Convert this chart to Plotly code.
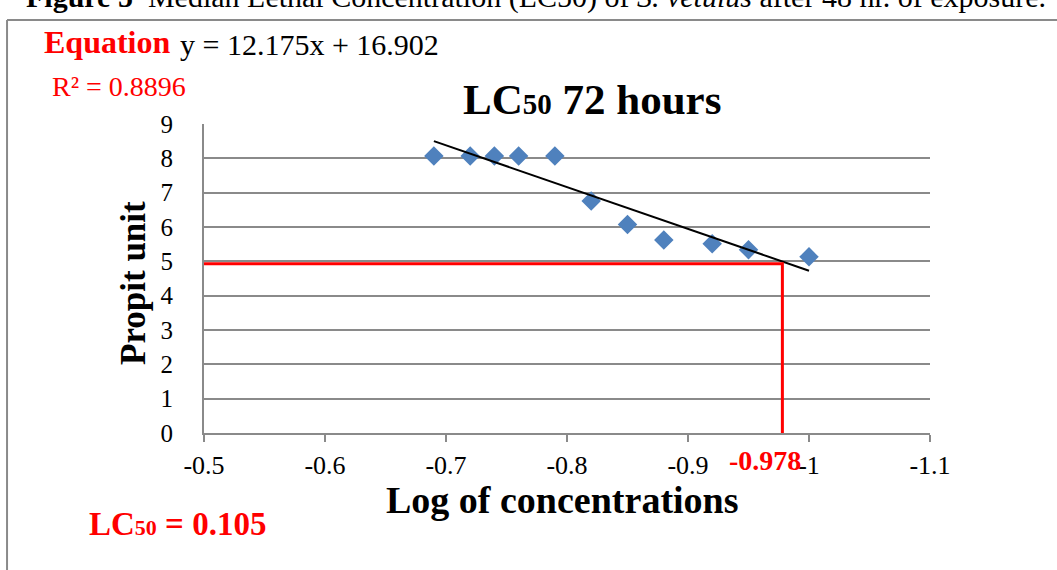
import plotly.graph_objects as go

# ---- data ----
log_conc = [-0.69, -0.72, -0.74, -0.76, -0.79, -0.82, -0.85, -0.88, -0.92, -0.95, -1.00]
probit = [8.07, 8.07, 8.07, 8.07, 8.07, 6.76, 6.07, 5.62, 5.51, 5.34, 5.13]
slope = 12.175
intercept = 16.902
lc50_log = -0.978
lc50_probit = 4.93
x_ticks = [-0.5, -0.6, -0.7, -0.8, -0.9, -1.0, -1.1]
x_tick_labels = ["-0.5", "-0.6", "-0.7", "-0.8", "-0.9", "-1", "-1.1"]
y_ticks = [0, 1, 2, 3, 4, 5, 6, 7, 8, 9]

SERIF = "Liberation Serif, Times New Roman, serif"
GRID = "#8a8a8a"

trend_x = [log_conc[0], log_conc[-1]]
trend_y = [slope * v + intercept for v in trend_x]

fig = go.Figure()
fig.add_trace(go.Scatter(x=log_conc, y=probit, mode="markers",
                         marker=dict(symbol="diamond", size=15, color="#4F81BD"),
                         showlegend=False))
fig.add_trace(go.Scatter(x=trend_x, y=trend_y, mode="lines",
                         line=dict(color="black", width=2), showlegend=False))
# LC50 guide lines
fig.add_trace(go.Scatter(x=[x_ticks[0], lc50_log, lc50_log], y=[lc50_probit, lc50_probit, y_ticks[0]],
                         mode="lines", line=dict(color="#ff0000", width=3), showlegend=False,
                         cliponaxis=False))

fig.update_layout(
    width=1057, height=570,
    margin=dict(l=204, r=127, t=124, b=137),
    paper_bgcolor="white", plot_bgcolor="white",
    font=dict(family=SERIF, color="black"),
    xaxis=dict(range=[-0.5, -1.1], tickvals=x_ticks, ticktext=x_tick_labels,
               showgrid=False, zeroline=False, showline=True, linecolor=GRID, linewidth=2,
               ticks="outside", ticklen=7, tickcolor=GRID, tickwidth=2,
               tickfont=dict(size=26, family=SERIF), ticklabelstandoff=1),
    yaxis=dict(range=[0, 9], tickvals=y_ticks, showgrid=True, gridcolor=GRID, gridwidth=2,
               zeroline=False, showline=True, linecolor=GRID, linewidth=2, ticks="",
               tickfont=dict(size=25, family=SERIF), ticklabelstandoff=24),
)

ann = []
ann.append(dict(text="<b>Figure 5</b>  Median Lethal Concentration (LC50) of <i>S. vetulus</i> after 48 hr. of exposure.",
                x=-0.248, y=1.35, xref="paper", yref="paper", xanchor="left", yanchor="bottom",
                showarrow=False, font=dict(size=30, family=SERIF)))
ann.append(dict(text="<b>Equation</b>", x=-0.223, y=1.265, xref="paper", yref="paper",
                xanchor="left", yanchor="middle", showarrow=False,
                font=dict(size=32, color="#ff0000", family=SERIF)))
ann.append(dict(text="y = 12.175x + 16.902", x=-0.036, y=1.257, xref="paper", yref="paper",
                xanchor="left", yanchor="middle", showarrow=False,
                font=dict(size=30, color="black", family=SERIF)))
ann.append(dict(text="R² = 0.8896", x=-0.212, y=1.12, xref="paper", yref="paper",
                xanchor="left", yanchor="middle", showarrow=False,
                font=dict(size=28, color="#ff0000", family=SERIF)))
ann.append(dict(text="<b>LC<span style='font-size:29px'>50</span> 72 hours</b>", x=0.534, y=1.078,
                xref="paper", yref="paper", xanchor="center", yanchor="middle", showarrow=False,
                font=dict(size=43, color="black", family=SERIF)))
ann.append(dict(text="<b>Propit unit</b>", x=-0.098, y=0.485, xref="paper", yref="paper",
                xanchor="center", yanchor="middle", textangle=-90, showarrow=False,
                font=dict(size=35, color="black", family=SERIF)))
ann.append(dict(text="<b>Log of concentrations</b>", x=0.494, y=-0.218, xref="paper", yref="paper",
                xanchor="center", yanchor="middle", showarrow=False,
                font=dict(size=38, color="black", family=SERIF)))
ann.append(dict(text="<b>-0.978</b>", x=0.773, y=-0.09, xref="paper", yref="paper",
                xanchor="center", yanchor="middle", showarrow=False,
                font=dict(size=28, color="#ff0000", family=SERIF)))
ann.append(dict(text="<b>LC<span style='font-size:22px'>50</span> = 0.105</b>", x=-0.161, y=-0.294,
                xref="paper", yref="paper", xanchor="left", yanchor="middle", showarrow=False,
                font=dict(size=33, color="#ff0000", family=SERIF)))
fig.update_layout(annotations=ann)

# outer frame of the embedded figure
fig.add_shape(type="line", xref="paper", yref="paper", x0=-0.2713, x1=-0.2713, y0=1.3366, y1=-0.5,
              line=dict(color="#8a8a8a", width=2))
fig.add_shape(type="line", xref="paper", yref="paper", x0=-0.2713, x1=1.3, y0=1.3366, y1=1.3366,
              line=dict(color="#8a8a8a", width=2))

fig.write_html("out.html", config={"displayModeBar": False},
               post_script="document.body.style.margin='0';")
